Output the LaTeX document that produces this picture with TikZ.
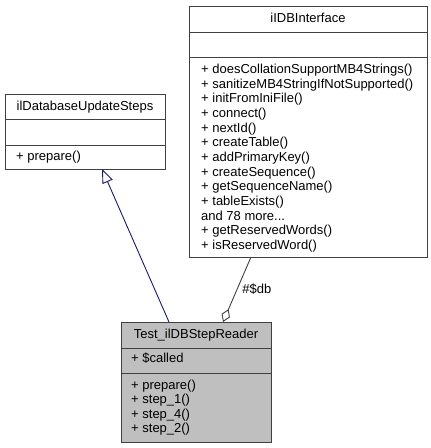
\documentclass[tikz,border=0pt]{standalone}
\usepackage{fontspec}
\setmainfont{Liberation Sans}
\usetikzlibrary{arrows.meta}
\definecolor{edgegray}{HTML}{404040}
\definecolor{navyedge}{HTML}{191970}
\definecolor{boxfill}{HTML}{BFBFBF}
\newcommand\mydots{...}
\begin{document}
\begin{tikzpicture}[x=1pt,y=-1pt,
  umlbox/.style={draw=edgegray,line width=1pt,rectangle,inner sep=0pt,outer sep=0pt},
  divider/.style={draw=edgegray,line width=1pt},
  txt/.style={inner sep=0pt,font=\fontsize{13}{15}\selectfont,text height=0.72em,text depth=0.2em,yshift=-1pt},
  lbl/.style={txt,anchor=west},
  inherit/.style={draw=navyedge,line width=0.9pt,-{Triangle[open,length=14pt,width=11pt]}},
  aggr/.style={draw=edgegray,line width=0.9pt,-{Diamond[open,length=14pt,width=9pt]}}
]
\useasboundingbox (0,0) rectangle (431,448);
% iIDBInterface
\node[umlbox,minimum width=238pt,minimum height=251pt] (iface) at (308,131.5) {};
\draw[divider] (189,32) -- (427,32);
\draw[divider] (189,57) -- (427,57);
\node[txt] (ifacetitle) at (308,19) {iIDBInterface};
\foreach \t [count=\i from 0] in {+ doesCollationSupportMB4Strings(),+ sanitizeMB4StringIfNotSupported(),+ initFromIniFile(),+ connect(),+ nextId(),+ createTable(),+ addPrimaryKey(),+ createSequence(),+ getSequenceName(),+ tableExists(),and 78 more\mydots,+ getReservedWords(),+ isReservedWord()}
  \node[lbl] (ifacem\i) at (201,70+14.67*\i) {\t};
% iIDatabaseUpdateSteps
\node[umlbox,minimum width=160pt,minimum height=75pt] (base) at (85,131.5) {};
\draw[divider] (5,119) -- (165,119);
\draw[divider] (5,145) -- (165,145);
\node[txt] (basetitle) at (85,106.5) {ilDatabaseUpdateSteps};
\node[lbl] (basem0) at (16,157) {+ prepare()};
% Test_iIDBStepReader
\node[umlbox,fill=boxfill,minimum width=150pt,minimum height=120pt] (test) at (196,382) {};
\draw[divider] (121,348) -- (271,348);
\draw[divider] (121,373) -- (271,373);
\node[txt] (testtitle) at (196,335) {Test\_ilDBStepReader};
\node[lbl] (testattr) at (131,359) {+ \$called};
\foreach \t [count=\i from 0] in {+ prepare(),+ step\_1(),+ step\_4(),+ step\_2()}
  \node[lbl] (testm\i) at (131,386+14.3*\i) {\t};
% connectors
\draw[inherit] ([xshift=-27pt]test.north) -- ([xshift=17pt]base.south);
\draw[aggr] ([xshift=-57pt]iface.south) -- node[txt,anchor=west,pos=0.5,xshift=5pt] (dblabel) {\#\$db} ([xshift=27pt]test.north);
\end{tikzpicture}
\end{document}
